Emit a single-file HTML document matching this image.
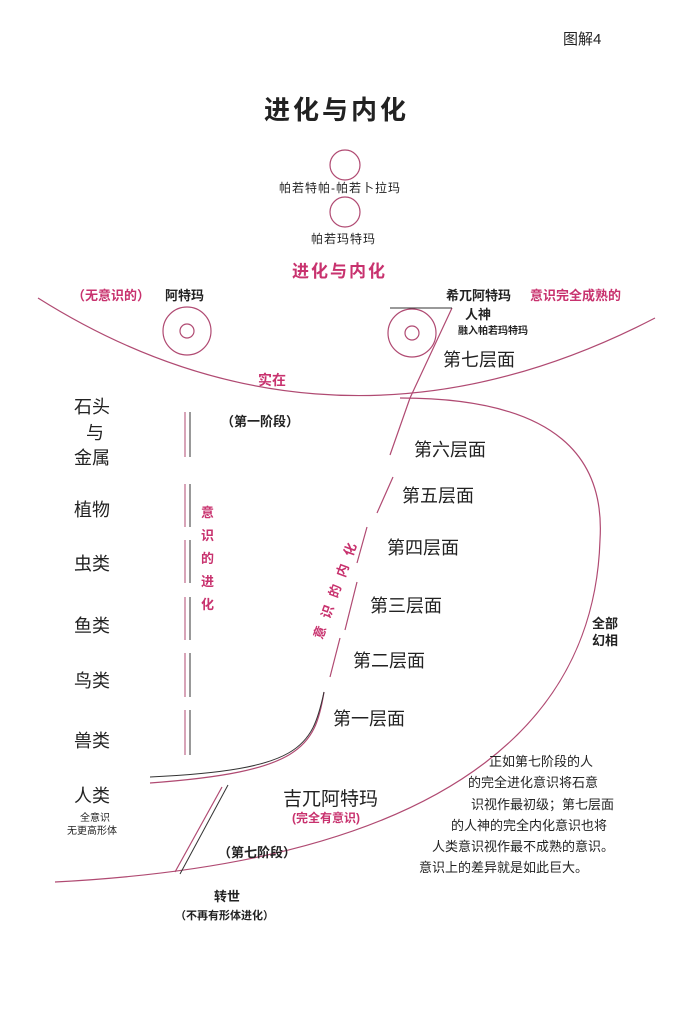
<!DOCTYPE html>
<html><head><meta charset="utf-8"><style>
html,body{margin:0;padding:0;background:#fff;}
svg{display:block;}
text{font-family:"Liberation Sans","Noto Sans CJK SC",sans-serif;fill:#222;}
.p{fill:#c8326e;}
.b{font-weight:bold;}
</style></head><body>
<svg width="683" height="1024" viewBox="0 0 683 1024" xmlns="http://www.w3.org/2000/svg">
<g fill="none" stroke="#b04a72" stroke-width="1.2">
<circle cx="345" cy="165" r="15"/>
<circle cx="345" cy="212" r="15"/>
<circle cx="187" cy="331" r="24"/><circle cx="187" cy="331" r="7"/>
<circle cx="412" cy="333" r="24"/><circle cx="412" cy="333" r="7"/>
<path d="M38,298 C200,400 410,445 655,318"/>
<path d="M400,398 C560,398 605,460 600,540 C595,700 480,860 55,882"/>
<path d="M452,308 L410,398 L390,455"/>
<path d="M393,477 L377,513 M367,527 L357,563 M357,582 L345,630 M340,638 L330,677"/>
<path d="M324,692 C315,748 300,772 150,783"/>
<path d="M222,787 L175,872"/>
<g stroke-width="1">
<path d="M185,412V457M185,484V527M185,540V583M185,597V640M185,653V697M185,710V755"/>
</g>
</g>
<g fill="none" stroke="#333" stroke-width="1">
<path d="M390,308 H452"/>
<path d="M324,692 C312,748 300,770 150,777"/>
<path d="M228,785 L180,874"/>
<path d="M190,412V457M190,484V527M190,540V583M190,597V640M190,653V697M190,710V755"/>
</g>
<text x="563" y="44" font-size="15">图解4</text>
<text x="264" y="119" font-size="26" class="b" letter-spacing="3">进化与内化</text>
<text x="279" y="192" font-size="12" letter-spacing="1">帕若特帕-帕若卜拉玛</text>
<text x="311" y="243" font-size="12" letter-spacing="1">帕若玛特玛</text>
<text x="292" y="277" font-size="17" class="b p" letter-spacing="2">进化与内化</text>
<text x="72" y="300" font-size="13" class="b p">（无意识的）</text>
<text x="165" y="300" font-size="13" class="b">阿特玛</text>
<text x="446" y="300" font-size="13" class="b">希兀阿特玛</text>
<text x="530" y="300" font-size="13" class="b p">意识完全成熟的</text>
<text x="465" y="319" font-size="13" class="b">人神</text>
<text x="458" y="334" font-size="10" class="b">融入帕若玛特玛</text>
<text x="443" y="366" font-size="18">第七层面</text>
<text x="258" y="385" font-size="14" class="b p">实在</text>
<text x="221" y="426" font-size="13" class="b">（第一阶段）</text>
<text x="74" y="413" font-size="18">石头</text>
<text x="86" y="439" font-size="18">与</text>
<text x="74" y="464" font-size="18">金属</text>
<text x="74" y="516" font-size="18">植物</text>
<text x="74" y="570" font-size="18">虫类</text>
<text x="74" y="632" font-size="18">鱼类</text>
<text x="74" y="687" font-size="18">鸟类</text>
<text x="74" y="747" font-size="18">兽类</text>
<text x="74" y="802" font-size="18">人类</text>
<text x="80" y="821" font-size="10">全意识</text>
<text x="67" y="834" font-size="10">无更高形体</text>
<g class="b p" font-size="13">
<text x="201" y="517" class="p">意</text><text x="201" y="540" class="p">识</text><text x="201" y="563" class="p">的</text><text x="201" y="586" class="p">进</text><text x="201" y="609" class="p">化</text>
</g>
<g transform="translate(322,640) rotate(-70)"><text x="0" y="0" font-size="13" class="b p" letter-spacing="9">意识的内化</text></g>
<text x="414" y="456" font-size="18">第六层面</text>
<text x="402" y="502" font-size="18">第五层面</text>
<text x="387" y="554" font-size="18">第四层面</text>
<text x="370" y="612" font-size="18">第三层面</text>
<text x="353" y="667" font-size="18">第二层面</text>
<text x="333" y="725" font-size="18">第一层面</text>
<text x="592" y="628" font-size="13" class="b">全部</text>
<text x="592" y="645" font-size="13" class="b">幻相</text>
<text x="283" y="805" font-size="19">吉兀阿特玛</text>
<text x="292" y="822" font-size="12" class="b p">(完全有意识)</text>
<text x="218" y="857" font-size="13" class="b">（第七阶段）</text>
<text x="214" y="901" font-size="13" class="b">转世</text>
<text x="175" y="919" font-size="11" class="b">（不再有形体进化）</text>
<g font-size="13">
<text x="489" y="766">正如第七阶段的人</text>
<text x="468" y="787">的完全进化意识将石意</text>
<text x="471" y="809">识视作最初级；第七层面</text>
<text x="451" y="830">的人神的完全内化意识也将</text>
<text x="432" y="851">人类意识视作最不成熟的意识。</text>
<text x="419" y="872">意识上的差异就是如此巨大。</text>
</g>
</svg>
</body></html>
